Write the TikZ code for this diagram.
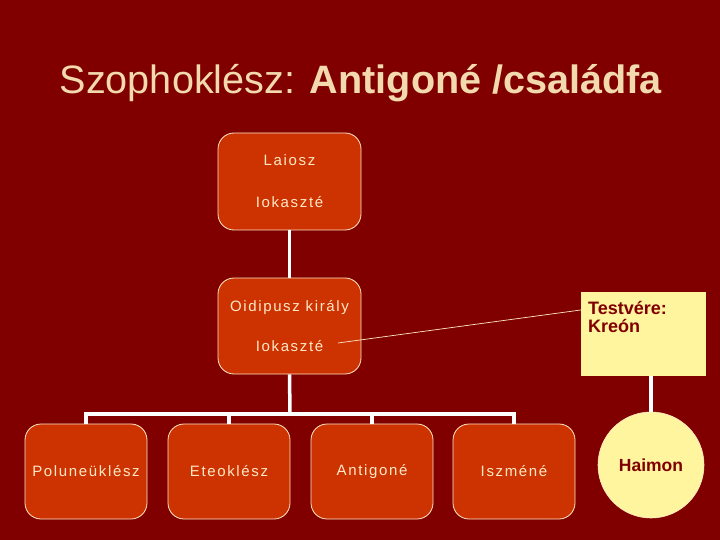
\documentclass[tikz,border=0pt]{standalone}
\usepackage{fontspec}
\setmainfont{Liberation Sans}
\newfontfamily\boxfont[LetterSpace=11]{Liberation Sans}
\definecolor{bgred}{HTML}{800000}
\definecolor{boxred}{HTML}{CC3300}
\definecolor{cream}{HTML}{FFE8C8}
\definecolor{titlecol}{HTML}{F3D9AE}
\definecolor{paleyellow}{HTML}{FFF59E}
\begin{document}
\begin{tikzpicture}[x=1pt,y=-1pt,
  famb/.style={draw=cream, line width=0.8pt, fill=boxred, rounded corners=16pt,
    text=cream, align=center, font=\boxfont\fontsize{15}{18}\selectfont},
  conn/.style={draw=white, line width=3.5pt},
  thin/.style={draw=cream, line width=0.7pt},
  yel/.style={fill=paleyellow, text=bgred, font=\bfseries\fontsize{17.5}{18}\selectfont}]
\fill[bgred] (0,0) rectangle (720,540);
\useasboundingbox (0,0) rectangle (720,540);

\node[anchor=base, text=titlecol, font=\fontsize{39.6}{44}\selectfont] (title) at (361,94)
  {Szophoklész: \textbf{Antigoné /családfa}};

\node[famb, minimum width=143pt, minimum height=97pt] (laiosz) at (289.5,181.5)
  {Laiosz\\[24pt]Iokaszté};
\node[famb, minimum width=143pt, minimum height=96pt] (oid) at (289.5,326)
  {Oidipusz király\\[22pt]Iokaszté};

\node[famb, minimum width=122pt, minimum height=95pt] (pol) at (86,471.5) {Poluneüklész};
\node[famb, minimum width=122pt, minimum height=95pt] (ete) at (229,471.5) {Eteoklész};
\node[famb, minimum width=122pt, minimum height=95pt] (ant) at (372,471.5) {Antigoné};
\node[famb, minimum width=122pt, minimum height=95pt] (isz) at (514,471.5) {Iszméné};

\node[yel, minimum width=125pt, minimum height=84pt] (test) at (643.5,334) {};
\node[anchor=north west, text=bgred, align=left, inner sep=0pt,
  font=\bfseries\fontsize{18}{18.5}\selectfont] (kreon) at (588,301) {Testvére:\\Kreón};

\node[yel, circle, draw=cream, line width=0.6pt, minimum size=106pt] (haimon) at (651,465) {Haimon};

\coordinate (bar) at (290,414);
\coordinate (ioka) at (338,343);

\draw[conn] (laiosz.south) -- (oid.north);
\draw[conn] (oid.south) -- (bar);
\draw[conn] (pol.north) -- (pol.north |- bar) -- (isz.north |- bar) -- (isz.north);
\draw[conn] (ete.north) -- (ete.north |- bar);
\draw[conn] (ant.north) -- (ant.north |- bar);
\draw[conn] (haimon.north |- test.south) -- (haimon.north);
\draw[thin] (ioka) -- (test.west |- 0,310);
\end{tikzpicture}
\end{document}
